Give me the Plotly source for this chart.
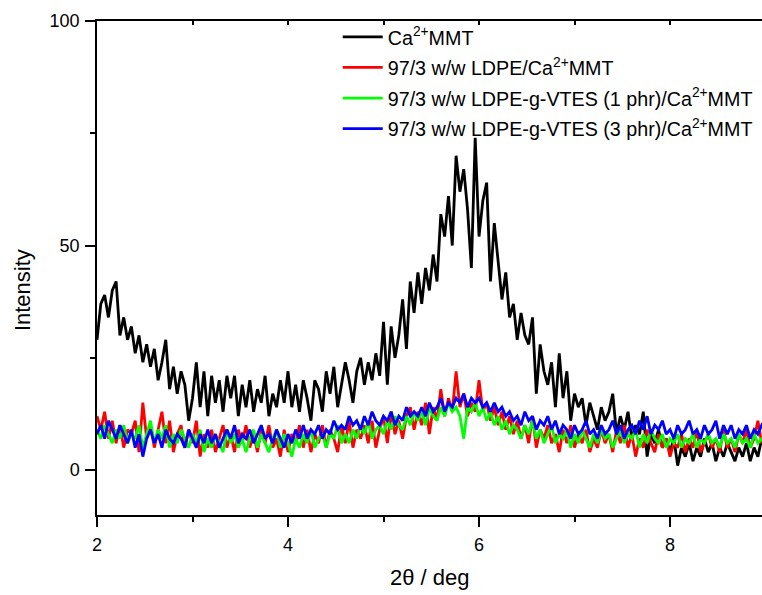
import numpy as np
import plotly.graph_objects as go

# 2-theta scan grid (deg), 0.04 deg steps from 2 to 9
two_theta = np.round(np.arange(176) * 0.04 + 2.0, 2)

ca_mmt = [
    29, 37, 39, 34, 40, 42, 30, 34, 29, 32,
    26, 30, 24, 28, 23, 27, 20, 24, 29, 18,
    23, 17, 22, 19, 11, 16, 24, 14, 22, 12,
    21, 15, 20, 13, 21, 16, 21, 12, 19, 14,
    20, 13, 18, 15, 21, 12, 17, 14, 20, 15,
    22, 14, 19, 13, 20, 16, 11, 20, 18, 13,
    22, 17, 23, 14, 19, 24, 20, 15, 22, 25,
    19, 24, 20, 26, 21, 33, 19, 32, 25, 30,
    38, 27, 42, 35, 44, 37, 45, 40, 48, 42,
    57, 52, 61, 50, 70, 62, 67, 58, 45, 74,
    52, 60, 64, 42, 55, 47, 38, 44, 34, 37,
    29, 35, 30, 28, 34, 17, 28, 22, 19, 24,
    14, 26, 16, 22, 11, 17, 14, 16, 10, 15,
    12, 9, 14, 11, 13, 17, 8, 12, 9, 13,
    7, 10, 8, 13, 3, 8, 6, 9, 5, 7,
    4, 7, 1, 5, 3, 6, 2, 5, 3, 7,
    4, 6, 2, 5, 3, 6, 4, 2, 5, 3,
    6, 2, 5, 3, 7, 4,
]

ldpe_mmt = [
    12, 9, 13, 7, 11, 6, 10, 5, 9, 8,
    11, 4, 15, 7, 10, 5, 9, 13, 6, 11,
    4, 8, 10, 5, 9, 6, 11, 3, 8, 5,
    9, 4, 7, 10, 5, 8, 4, 9, 6, 10,
    5, 8, 4, 9, 6, 10, 5, 7, 3, 9,
    4, 8, 6, 10, 5, 9, 4, 8, 6, 10,
    5, 9, 7, 4, 10, 6, 11, 5, 9, 7,
    10, 6, 11, 5, 9, 12, 6, 13, 8, 11,
    7, 12, 14, 9, 13, 10, 15, 8, 14, 11,
    18, 12, 16, 13, 22, 14, 17, 12, 15, 13,
    20, 13, 15, 11, 14, 10, 13, 9, 12, 8,
    11, 7, 10, 6, 12, 5, 9, 7, 10, 6,
    8, 4, 9, 6, 10, 5, 8, 6, 9, 4,
    7, 5, 9, 6, 8, 4, 9, 6, 10, 5,
    8, 3, 7, 5, 9, 6, 4, 8, 5, 7,
    3, 6, 5, 8, 4, 7, 5, 9, 4, 6,
    8, 5, 7, 4, 9, 5, 7, 4, 8, 6,
    9, 5, 7, 11, 6, 8,
]

vtes1_mmt = [
    9, 7, 10, 8, 6, 9, 7, 10, 6, 8,
    7, 10, 5, 8, 11, 6, 9, 7, 10, 5,
    8, 6, 9, 7, 5, 8, 6, 9, 4, 7,
    5, 8, 6, 4, 9, 6, 8, 5, 7, 4,
    7, 9, 5, 8, 6, 4, 7, 9, 5, 8,
    6, 3, 7, 5, 8, 6, 9, 5, 7, 8,
    5, 8, 7, 10, 6, 8, 6, 9, 7, 10,
    8, 11, 7, 9, 10, 8, 11, 9, 12, 10,
    9, 12, 10, 13, 11, 13, 10, 14, 12, 11,
    14, 12, 15, 13, 14, 12, 7, 14, 13, 15,
    12, 14, 11, 13, 10, 12, 9, 11, 8, 10,
    9, 7, 10, 8, 11, 7, 9, 6, 8, 10,
    6, 8, 7, 9, 5, 8, 6, 9, 7, 5,
    8, 6, 9, 7, 8, 5, 7, 9, 6, 8,
    7, 9, 5, 8, 6, 9, 7, 6, 8, 5,
    7, 6, 8, 5, 7, 6, 8, 5, 7, 6,
    8, 6, 7, 5, 8, 6, 7, 5, 8, 6,
    7, 5, 8, 6, 7, 6,
]

vtes3_mmt = [
    8, 10, 7, 11, 9, 7, 10, 8, 6, 9,
    5, 8, 3, 7, 9, 6, 8, 5, 9, 7,
    6, 8, 7, 5, 9, 7, 5, 8, 6, 9,
    6, 8, 5, 7, 9, 7, 10, 6, 8, 7,
    9, 6, 8, 10, 7, 8, 6, 9, 7, 5,
    8, 6, 9, 7, 10, 7, 9, 8, 10, 7,
    9, 8, 11, 9, 10, 9, 12, 10, 11, 9,
    12, 10, 13, 11, 10, 12, 11, 13, 10, 12,
    11, 14, 12, 13, 12, 14, 12, 15, 13, 14,
    16, 13, 15, 14, 16, 15, 17, 14, 16, 15,
    16, 14, 15, 13, 15, 13, 14, 12, 13, 11,
    12, 10, 13, 11, 12, 9, 11, 10, 12, 9,
    11, 8, 10, 9, 7, 10, 8, 9, 11, 8,
    9, 7, 10, 8, 9, 11, 8, 10, 7, 9,
    10, 8, 11, 9, 12, 8, 10, 9, 11, 8,
    9, 7, 10, 8, 9, 11, 8, 9, 7, 10,
    8, 9, 11, 7, 10, 8, 10, 7, 9, 8,
    10, 7, 9, 8, 10, 9,
]

series = [
    ("Ca<sup>2+</sup>MMT", ca_mmt, "#000000"),
    ("97/3 w/w LDPE/Ca<sup>2+</sup>MMT", ldpe_mmt, "#ff0000"),
    ("97/3 w/w LDPE-g-VTES (1 phr)/Ca<sup>2+</sup>MMT", vtes1_mmt, "#00ff00"),
    ("97/3 w/w LDPE-g-VTES (3 phr)/Ca<sup>2+</sup>MMT", vtes3_mmt, "#0000ff"),
]

FONT = "Arial, Liberation Sans, sans-serif"
X_RANGE = [2, 8.963]
Y_RANGE = [-10, 100]

fig = go.Figure()
for i, (name, ys, color) in enumerate(series):
    fig.add_trace(go.Scatter(
        x=two_theta, y=ys, mode="lines", name=name, legendgroup=f"g{i}",
        line=dict(color=color, width=2.8),
    ))

axis_common = dict(
    showgrid=False, zeroline=False, showline=True,
    linecolor="black", linewidth=1.5,
    tickcolor="black", tickwidth=1.5,
    tickfont=dict(family=FONT, size=18, color="black"),
)

fig.update_layout(
    width=762, height=595,
    margin=dict(l=97, r=0, t=21, b=80),
    paper_bgcolor="white", plot_bgcolor="white",
    font=dict(family=FONT, color="black"),
    showlegend=True,
    legend=dict(
        x=0.362, y=1.007, xanchor="left", yanchor="top",
        bgcolor="rgba(0,0,0,0)", borderwidth=0,
        font=dict(family=FONT, size=19.7, color="black"),
        itemwidth=40, tracegroupgap=2,
    ),
    xaxis=dict(
        range=X_RANGE, tickmode="array", tickvals=[2, 4, 6, 8],
        ticks="outside", ticklen=10, ticklabelstandoff=3,
        minor=dict(tickvals=[3, 5, 7], ticks="outside", ticklen=5,
                   tickcolor="black", tickwidth=1.5),
        **axis_common,
    ),
    xaxis2=dict(
        range=X_RANGE, overlaying="x", side="top",
        showline=True, linecolor="black", linewidth=1.5,
        showgrid=False, zeroline=False, showticklabels=False,
        tickmode="array", tickvals=[3, 4, 5, 6, 7, 8],
        ticks="inside", ticklen=4, tickcolor="black", tickwidth=1.5,
    ),
    yaxis=dict(
        range=Y_RANGE, tickmode="array", tickvals=[0, 50, 100],
        ticks="outside", ticklen=10, ticklabelstandoff=2,
        minor=dict(tickvals=[25, 75], ticks="outside", ticklen=5,
                   tickcolor="black", tickwidth=1.5),
        **axis_common,
    ),
    annotations=[
        dict(text="Intensity", textangle=-90, xref="paper", yref="paper",
             x=-0.113, y=0.455, xanchor="center", yanchor="middle",
             showarrow=False, font=dict(family=FONT, size=22, color="black")),
        dict(text="2\u03b8 / deg", xref="paper", yref="paper",
             x=0.5, y=-0.1275, xanchor="center", yanchor="middle",
             showarrow=False, font=dict(family=FONT, size=22, color="black")),
    ],
)

# placeholder trace so the top axis is drawn
fig.add_trace(go.Scatter(x=[None], y=[None], xaxis="x2", showlegend=False,
                         hoverinfo="skip"))

fig.write_html("out.html")
